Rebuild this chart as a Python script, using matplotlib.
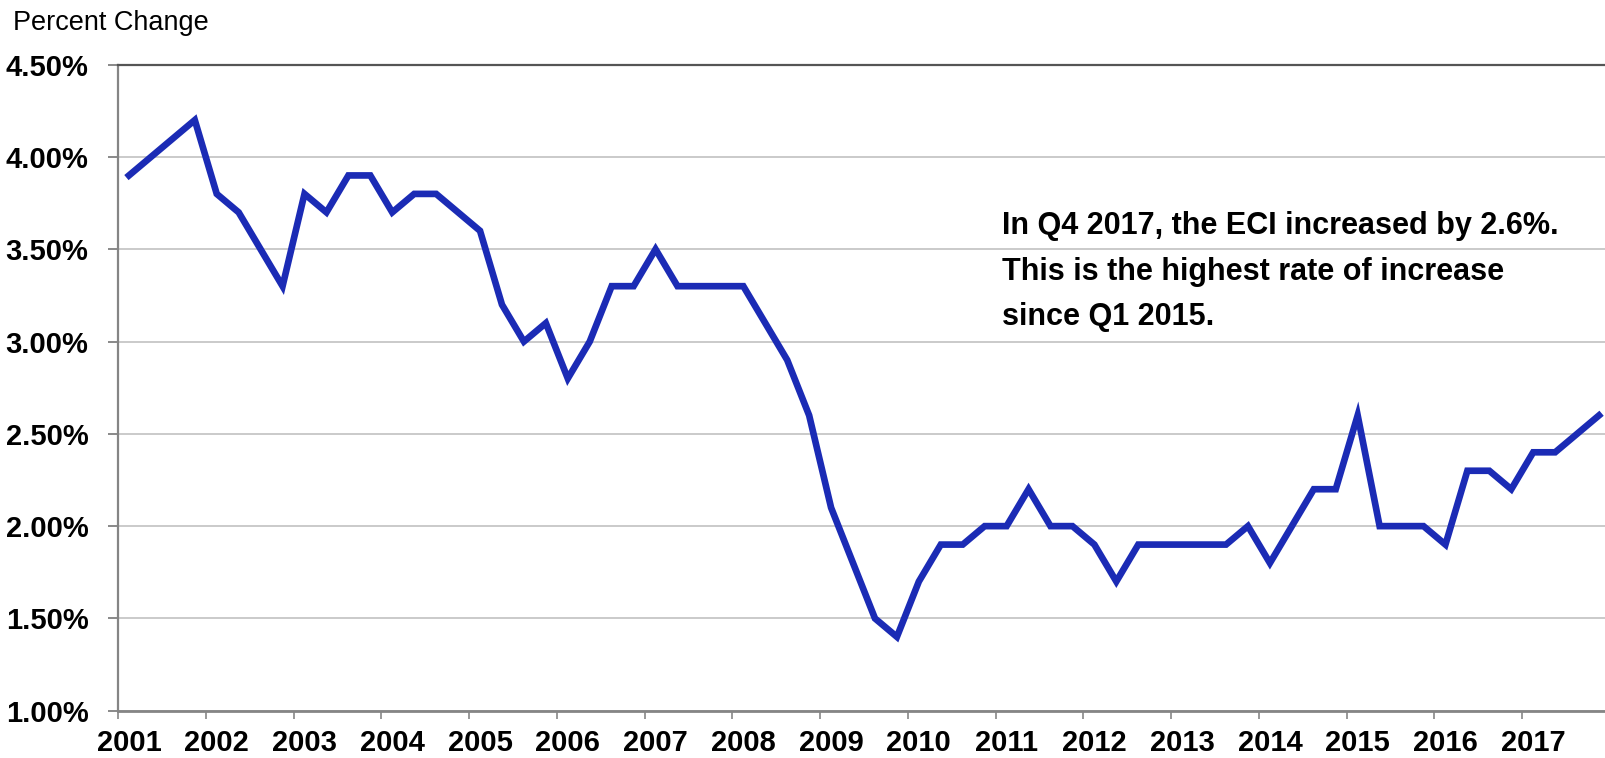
import matplotlib
matplotlib.use("Agg")
import matplotlib.pyplot as plt
from matplotlib.ticker import FixedLocator, FuncFormatter

plt.rcParams['font.family'] = ['Liberation Sans Narrow', 'Liberation Sans', 'DejaVu Sans']

# quarterly ECI percent change, Q1 2001 .. Q4 2017
years = list(range(2001, 2018))
eci = [3.9, 4.0, 4.1, 4.2,   # 2001
       3.8, 3.7, 3.5, 3.3,   # 2002
       3.8, 3.7, 3.9, 3.9,   # 2003
       3.7, 3.8, 3.8, 3.7,   # 2004
       3.6, 3.2, 3.0, 3.1,   # 2005
       2.8, 3.0, 3.3, 3.3,   # 2006
       3.5, 3.3, 3.3, 3.3,   # 2007
       3.3, 3.1, 2.9, 2.6,   # 2008
       2.1, 1.8, 1.5, 1.4,   # 2009
       1.7, 1.9, 1.9, 2.0,   # 2010
       2.0, 2.2, 2.0, 2.0,   # 2011
       1.9, 1.7, 1.9, 1.9,   # 2012
       1.9, 1.9, 1.9, 2.0,   # 2013
       1.8, 2.0, 2.2, 2.2,   # 2014
       2.6, 2.0, 2.0, 2.0,   # 2015
       1.9, 2.3, 2.3, 2.2,   # 2016
       2.4, 2.4, 2.5, 2.6]   # 2017
y_ticks = [1.0, 1.5, 2.0, 2.5, 3.0, 3.5, 4.0, 4.5]
note = "In Q4 2017, the ECI increased by 2.6%.\nThis is the highest rate of increase\nsince Q1 2015."

fig = plt.figure(figsize=(16.06, 7.58), dpi=100)
W, H = 1606, 758
ax = fig.add_axes([118 / W, (H - 710.7) / H, (1610 - 118) / W, (710.7 - 64.7) / H])

xs = list(range(len(eci)))
ax.plot(xs, eci, color='#1b2bb5', lw=4.8, solid_joinstyle='miter', zorder=3, clip_on=False)

ax.set_xlim(-0.5, len(eci) - 0.5)
ax.set_ylim(1.0, 4.5)

# y axis
ax.set_yticks(y_ticks)
ax.yaxis.set_major_formatter(FuncFormatter(lambda v, p: "%.2f%%" % v))
ax.tick_params(axis='y', length=7.2, width=1.3, color='#808080', pad=14,
               labelsize=21)
for lab in ax.get_yticklabels():
    lab.set_fontweight('bold')
ax.grid(axis='y', color='#c6c6c6', lw=1.3, zorder=0)

# x axis: ticks on year boundaries, labels under first quarter
ax.xaxis.set_major_locator(FixedLocator([i * 4 - 0.5 for i in range(len(years))]))
ax.xaxis.set_major_formatter(FuncFormatter(lambda v, p: ""))
ax.xaxis.set_minor_locator(FixedLocator([i * 4 for i in range(len(years))]))
ax.set_xticklabels([str(y) for y in years], minor=True)
ax.tick_params(axis='x', which='major', length=6, width=1.3, color='#909090')
ax.tick_params(axis='x', which='minor', length=0, pad=13, labelsize=21)
for lab in ax.get_xticklabels(minor=True):
    lab.set_fontweight('bold')

for s in ['left', 'bottom']:
    ax.spines[s].set_color('#858585')
    ax.spines[s].set_linewidth(1.6)
ax.spines['bottom'].set_linewidth(2.0)
ax.spines['top'].set_color('#555555')
ax.spines['top'].set_linewidth(1.6)
ax.spines['right'].set_visible(False)

fig.text(13 / W, 1 - 23 / H, "Percent Change", fontsize=19.5, va='center', ha='left')
fig.text(1002 / W, 1 - 211 / H, note, fontsize=22, fontweight='bold',
         va='top', ha='left', linespacing=1.68)

fig.savefig("out.png", dpi=100)
